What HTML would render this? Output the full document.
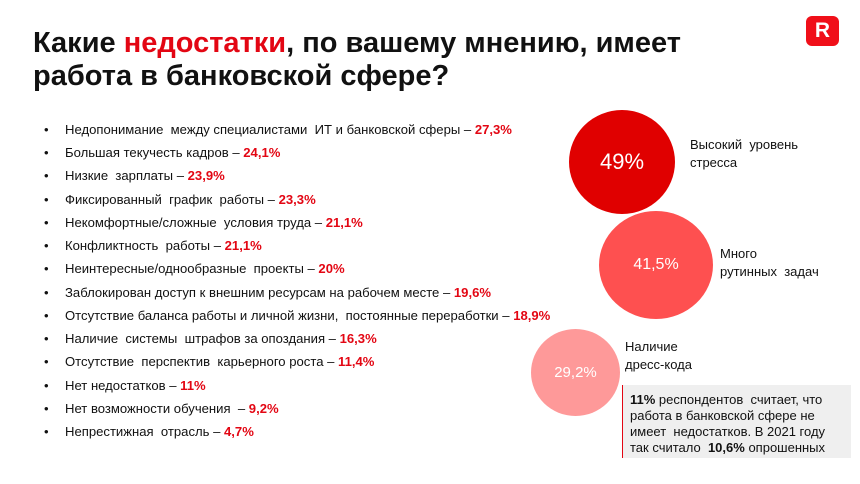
<!DOCTYPE html>
<html><head><meta charset="utf-8"><style>
body{margin:0;width:860px;height:484px;background:#fff;font-family:"Liberation Sans",sans-serif;position:relative;overflow:hidden;color:#111}
.t{position:absolute;left:33px;top:27px;font-size:29px;font-weight:bold;line-height:33px;color:#111}
.r{color:#e30613}
ul{position:absolute;left:0;top:120px;margin:0;padding:0;list-style:none;font-size:13.1px}
li{position:absolute;left:65px;white-space:pre;line-height:16px}
li:before{content:"•";position:absolute;left:-21px}
li b{color:#e30613}
.c{position:absolute;border-radius:50%;color:#fff;display:flex;align-items:center;justify-content:center}
.l{position:absolute;font-size:13px;line-height:18px;white-space:pre}
</style></head><body>
<div class="t">Какие <span class="r">недостатки</span>, по вашему мнению, имеет<br>работа в банковской сфере?</div>
<div style="position:absolute;left:806px;top:16px;width:33px;height:30px;background:#f00f19;border-radius:6px;color:#fff;font-weight:bold;font-size:21px;text-align:center;line-height:30px">R</div>
<ul>
<li style="top:2px">Недопонимание  между специалистами  ИТ и банковской сферы – <b>27,3%</b></li>
<li style="top:25px">Большая текучесть кадров – <b>24,1%</b></li>
<li style="top:48px">Низкие  зарплаты – <b>23,9%</b></li>
<li style="top:72px">Фиксированный  график  работы – <b>23,3%</b></li>
<li style="top:95px">Некомфортные/сложные  условия труда – <b>21,1%</b></li>
<li style="top:118px">Конфликтность  работы – <b>21,1%</b></li>
<li style="top:141px">Неинтересные/однообразные  проекты – <b>20%</b></li>
<li style="top:165px">Заблокирован доступ к внешним ресурсам на рабочем месте – <b>19,6%</b></li>
<li style="top:188px">Отсутствие баланса работы и личной жизни,  постоянные переработки – <b>18,9%</b></li>
<li style="top:211px">Наличие  системы  штрафов за опоздания – <b>16,3%</b></li>
<li style="top:234px">Отсутствие  перспектив  карьерного роста – <b>11,4%</b></li>
<li style="top:258px">Нет недостатков – <b>11%</b></li>
<li style="top:281px">Нет возможности обучения  – <b>9,2%</b></li>
<li style="top:304px">Непрестижная  отрасль – <b>4,7%</b></li>
</ul>
<div class="c" style="left:569px;top:110px;width:106px;height:104px;background:#e00000;font-size:22px">49%</div>
<div class="c" style="left:599px;top:211px;width:114px;height:108px;background:#fe5050;font-size:16px">41,5%</div>
<div class="c" style="left:531px;top:329px;width:89px;height:87px;background:#fe9999;font-size:15px">29,2%</div>
<div class="l" style="left:690px;top:136px">Высокий  уровень<br>стресса</div>
<div class="l" style="left:720px;top:245px">Много<br>рутинных  задач</div>
<div class="l" style="left:625px;top:338px">Наличие<br>дресс-кода</div>
<div style="position:absolute;left:622px;top:385px;width:228px;height:73px;background:#efefef;border-left:1px solid #e30613"></div>
<div class="l" style="left:630px;top:392px;font-size:13px;line-height:16px;color:#111"><b>11%</b> респондентов  считает, что<br>работа в банковской сфере не<br>имеет  недостатков. В 2021 году<br>так считало  <b>10,6%</b> опрошенных</div>
</body></html>
